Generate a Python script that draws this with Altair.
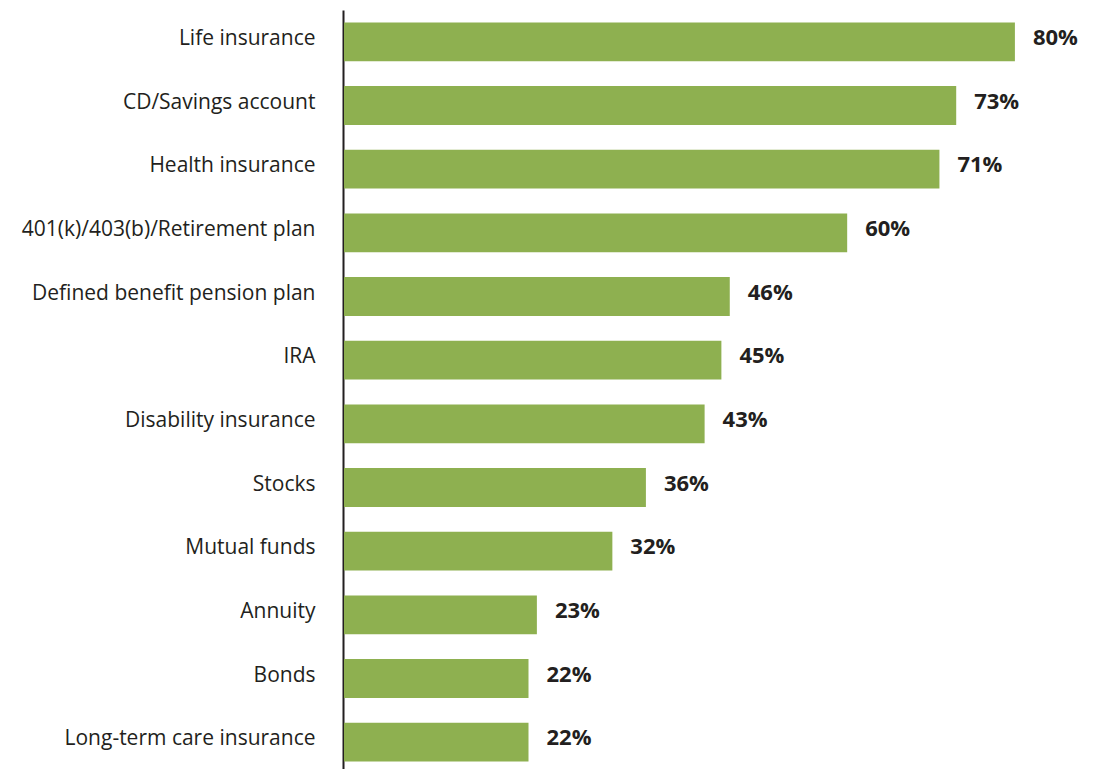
import altair as alt
import pandas as pd

categories = [
    "Life insurance",
    "CD/Savings account",
    "Health insurance",
    "401(k)/403(b)/Retirement plan",
    "Defined benefit pension plan",
    "IRA",
    "Disability insurance",
    "Stocks",
    "Mutual funds",
    "Annuity",
    "Bonds",
    "Long-term care insurance",
]
values = [80, 73, 71, 60, 46, 45, 43, 36, 32, 23, 22, 22]

df = pd.DataFrame({"cat": categories, "val": values})
df["label"] = df["val"].astype(str) + "%"

FONT = "Open Sans"
DARK = "#231f20"

y_enc = alt.Y(
    "cat:N",
    sort=categories,
    title=None,
    scale=alt.Scale(paddingInner=0.39, paddingOuter=0.195),
    axis=alt.Axis(
        domainColor=DARK,
        domainWidth=2,
        ticks=False,
        labelPadding=28,
        labelFontSize=21,
        labelFont=FONT,
        labelColor=DARK,
        labelLimit=400,
        labelOffset=-3,
        offset=1,
        grid=False,
    ),
)
x_enc = alt.X("val:Q", title=None, scale=alt.Scale(domain=[0, 88], nice=False, zero=True), axis=None)

bars = alt.Chart(df).mark_bar(color="#8eb050").encode(y=y_enc, x=x_enc)
text = alt.Chart(df).mark_text(
    align="left", baseline="middle", dx=18, dy=-4, font=FONT, fontSize=22,
    fontWeight="bold", color=DARK
).encode(y=alt.Y("cat:N", sort=categories), x=x_enc, text="label:N")

chart = (
    alt.layer(bars, text)
    .properties(
        width=738,
        height=764,
        autosize=alt.AutoSizeParams(type="none"),
        padding={"left": 344, "top": 10, "right": 0, "bottom": 0},
        view=alt.ViewBackground(strokeOpacity=0, strokeWidth=0),
    )
    .configure_view(strokeOpacity=0, strokeWidth=0)
    .configure_axis(grid=False)
    .configure(background="white")
)

chart.save("out.html", embed_options={"renderer": "svg", "actions": False})
